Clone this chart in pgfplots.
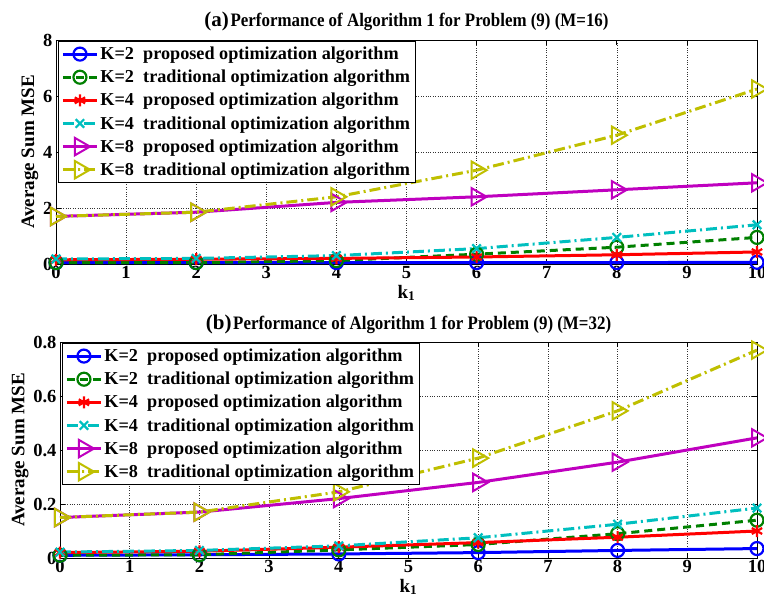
\documentclass[border=0pt]{standalone}
\usepackage{fontspec}
\setmainfont{Liberation Serif}
\usepackage{graphicx}
\usepackage{pgfplots}
\pgfplotsset{compat=1.18}
\definecolor{mblue}{rgb}{0,0,1}
\definecolor{mgreen}{rgb}{0,0.5,0}
\definecolor{mred}{rgb}{1,0,0}
\definecolor{mcyan}{rgb}{0,0.75,0.75}
\definecolor{mmag}{rgb}{0.75,0,0.75}
\definecolor{molive}{rgb}{0.75,0.75,0}
\pgfplotsset{
  mystyle/.style={
    scale only axis,
    anchor=south west,
    xmin=0, xmax=10,
    xtick={0,1,...,10},
    tick align=inside,
    grid=major,
    major grid style={dotted, black!80, line width=0.6pt},
    axis line style={black, line width=0.7pt},
    tick style={black, line width=0.7pt},
    major tick length=5pt,
    ticklabel style={font=\bfseries\fontsize{18.5}{18.5}\selectfont},
    xticklabel style={yshift=1pt},
    /pgf/number format/assume math mode=true,
    label style={font=\bfseries\fontsize{19}{19}\selectfont},
    ylabel={Average Sum MSE},
    xlabel={k\textsubscript{1}},
    xlabel style={yshift=1pt},
    ylabel style={yshift=-2pt},
    clip=false,
    legend cell align=left,
    legend style={at={(0.003,0.997)}, anchor=north west, draw=black, line width=0.7pt,
      font=\bfseries\fontsize{18.2}{19}\selectfont, row sep=5pt, inner xsep=3pt, inner ysep=4pt},
    legend image code/.code={\draw[mark repeat=2,mark phase=2,#1] plot coordinates {(0pt,0pt) (17pt,0pt) (34pt,0pt)};},
    title style={yshift=-1pt},
  },
  pB/.style={mblue, line width=3pt, mark=o, mark size=6.5pt, mark options={solid, line width=2.2pt}},
  tB/.style={mgreen, line width=3pt, dash pattern=on 8pt off 5pt, mark=o, mark size=6.5pt, mark options={solid, line width=2.2pt}},
  pR/.style={mred, line width=3pt, mark=asterisk, mark size=6pt, mark options={solid, line width=2.2pt}},
  tC/.style={mcyan, line width=3pt, dash pattern=on 11pt off 4pt on 2pt off 4pt, mark=x, mark size=6pt, mark options={solid, line width=2.2pt}},
  pM/.style={mmag, line width=3pt, mark=triangle, mark size=10pt, mark options={solid, line width=2pt, rotate=-90}},
  tO/.style={molive, line width=3pt, dash pattern=on 11pt off 4pt on 2pt off 4pt, mark=triangle, mark size=10pt, mark options={solid, line width=2pt, rotate=-90}},
}
\newcommand{\ttl}[2]{{\bfseries\fontsize{21}{21}\selectfont #1}\,\scalebox{0.89}[1]{\bfseries\fontsize{19}{19}\selectfont Performance of Algorithm 1 for Problem (9) (M=#2)}}
\begin{document}
\begin{tikzpicture}
\useasboundingbox (0,0) rectangle (764pt,-605pt);
\begin{axis}[mystyle, at={(56pt,-264pt)}, width=701pt, height=224pt,
  ymin=0, ymax=8, ytick={0,2,4,6,8},
  title={\ttl{(a)}{16}}]
\addplot[pB] coordinates {(0,0.05) (2,0.05) (4,0.05) (6,0.05) (8,0.05) (10,0.06)};
\addlegendentry{K=2\ \ proposed optimization algorithm}
\addplot[tB] coordinates {(0,0.05) (2,0.05) (4,0.12) (6,0.35) (8,0.6) (10,0.95)};
\addlegendentry{K=2\ \ traditional optimization algorithm}
\addplot[pR] coordinates {(0,0.15) (2,0.17) (4,0.2) (6,0.25) (8,0.33) (10,0.43)};
\addlegendentry{K=4\ \ proposed optimization algorithm}
\addplot[tC] coordinates {(0,0.18) (2,0.2) (4,0.3) (6,0.55) (8,0.95) (10,1.4)};
\addlegendentry{K=4\ \ traditional optimization algorithm}
\addplot[pM] coordinates {(0,1.7) (2,1.85) (4,2.2) (6,2.4) (8,2.65) (10,2.9)};
\addlegendentry{K=8\ \ proposed optimization algorithm}
\addplot[tO] coordinates {(0,1.7) (2,1.85) (4,2.4) (6,3.35) (8,4.6) (10,6.25)};
\addlegendentry{K=8\ \ traditional optimization algorithm}
\end{axis}
\begin{axis}[mystyle, at={(60pt,-558pt)}, width=697pt, height=216pt,
  ymin=0, ymax=0.8, ytick={0,0.2,0.4,0.6,0.8},
  title={\ttl{(b)}{32}}]
\addplot[pB] coordinates {(0,0.01) (2,0.012) (4,0.015) (6,0.02) (8,0.028) (10,0.035)};
\addlegendentry{K=2\ \ proposed optimization algorithm}
\addplot[tB] coordinates {(0,0.01) (2,0.012) (4,0.03) (6,0.05) (8,0.09) (10,0.14)};
\addlegendentry{K=2\ \ traditional optimization algorithm}
\addplot[pR] coordinates {(0,0.02) (2,0.025) (4,0.04) (6,0.057) (8,0.077) (10,0.1)};
\addlegendentry{K=4\ \ proposed optimization algorithm}
\addplot[tC] coordinates {(0,0.022) (2,0.028) (4,0.045) (6,0.075) (8,0.125) (10,0.185)};
\addlegendentry{K=4\ \ traditional optimization algorithm}
\addplot[pM] coordinates {(0,0.15) (2,0.17) (4,0.22) (6,0.28) (8,0.355) (10,0.445)};
\addlegendentry{K=8\ \ proposed optimization algorithm}
\addplot[tO] coordinates {(0,0.15) (2,0.17) (4,0.245) (6,0.37) (8,0.545) (10,0.77)};
\addlegendentry{K=8\ \ traditional optimization algorithm}
\end{axis}
\end{tikzpicture}
\end{document}
